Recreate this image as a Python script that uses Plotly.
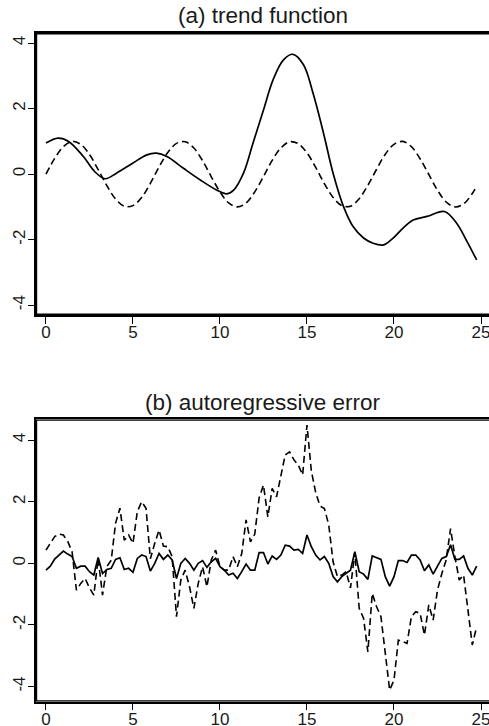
import plotly.graph_objects as go

# ---- panel (a): trend function ----
trend_x = [0, 0.7, 1.3, 2.15, 2.8, 3.4, 4.05, 5.0, 5.8, 6.35, 6.95, 7.9, 8.85, 9.8,
           10.4, 10.8, 11.35, 11.9, 12.5, 13.05, 13.65, 14.2, 14.8, 15.35, 15.95,
           16.5, 17.1, 17.65, 18.25, 18.8, 19.4, 19.95, 20.55, 21.1, 21.9, 22.9,
           23.6, 24.2, 24.75]
trend_y = [0.95, 1.10, 1.00, 0.54, 0.08, -0.14, 0.03, 0.34, 0.59, 0.64, 0.54, 0.18,
           -0.17, -0.48, -0.60, -0.48, 0.03, 0.95, 1.96, 2.88, 3.49, 3.66, 3.34, 2.47,
           1.25, 0.03, -0.99, -1.60, -1.95, -2.11, -2.16, -1.95, -1.63, -1.40, -1.29,
           -1.14, -1.50, -2.06, -2.62]

wave_x = [0, 0.5, 1, 1.5, 2, 2.5, 3, 3.5, 4, 4.5, 5, 5.5, 6, 6.5, 7, 7.5, 8, 8.5, 9,
          9.5, 10, 10.5, 11, 11.5, 12, 12.5, 13, 13.5, 14, 14.5, 15, 15.5, 16, 16.5,
          17, 17.5, 18, 18.5, 19, 19.5, 20, 20.5, 21, 21.5, 22, 22.5, 23, 23.5, 24,
          24.5, 24.75]
wave_y = [0.00, 0.48, 0.84, 1.00, 0.91, 0.60, 0.14, -0.35, -0.76, -0.98, -0.96, -0.71,
          -0.28, 0.22, 0.66, 0.94, 0.99, 0.80, 0.41, -0.08, -0.54, -0.88, -1.00, -0.88,
          -0.54, -0.07, 0.42, 0.80, 0.99, 0.93, 0.65, 0.21, -0.29, -0.71, -0.96, -0.98,
          -0.75, -0.34, 0.15, 0.61, 0.91, 1.00, 0.84, 0.47, -0.01, -0.49, -0.85, -1.00,
          -0.91, -0.59, -0.37]

# ---- panel (b): autoregressive error ----
ar_x = [i * 0.25 for i in range(100)]
ar_small = [-0.22, -0.09, 0.14, 0.27, 0.40, 0.30, 0.22, -0.16, -0.09, -0.09,
            -0.27, -0.38, 0.19, -0.33, -0.20, -0.16, 0.13, 0.18, -0.20, -0.16,
            -0.29, 0.16, 0.27, 0.22, -0.25, 0.00, 0.32, 0.13, 0.27, 0.11,
            -0.49, 0.00, 0.16, 0.00, -0.22, 0.00, 0.09, -0.13, 0.05, 0.16,
            -0.11, -0.22, -0.38, -0.32, -0.49, -0.27, -0.02, -0.22, -0.22, 0.35,
            0.35, -0.02, 0.24, 0.13, 0.27, 0.59, 0.56, 0.43, 0.45, 0.32,
            0.92, 0.54, 0.27, 0.11, 0.22, 0.00, -0.43, -0.60, -0.43, -0.32,
            -0.22, 0.38, -0.27, -0.35, -0.52, 0.24, 0.18, 0.13, -0.43, -0.74,
            -0.43, 0.09, 0.09, 0.03, 0.27, 0.27, 0.11, -0.24, -0.05, -0.35,
            -0.09, 0.16, 0.22, 0.60, 0.13, 0.13, 0.24, -0.16, -0.38, -0.09]
ar_large = [0.43, 0.65, 0.87, 0.95, 0.92, 0.71, 0.38, -0.87, -0.65, -0.49,
            -0.80, -1.03, 0.16, -1.03, -0.10, 0.10, 1.30, 1.79, 0.75, 0.92,
            0.65, 1.68, 2.00, 1.79, 0.15, 0.65, 1.08, 0.56, 0.54, 0.22,
            -1.73, -0.54, -0.22, -0.76, -1.46, -0.65, -0.11, -0.76, 0.11, 0.43,
            -0.11, -0.22, -0.22, 0.22, -0.11, 0.32, 1.41, 0.70, 0.95, 2.13,
            2.54, 1.51, 2.43, 2.16, 2.81, 3.52, 3.62, 3.36, 3.19, 2.87,
            4.49, 3.00, 2.30, 1.86, 1.78, 1.25, 0.05, -0.43, -0.38, -0.27,
            -0.80, 0.35, -1.46, -1.78, -2.87, -0.98, -1.41, -1.73, -2.92, -4.11,
            -3.79, -2.49, -2.54, -2.60, -1.73, -1.57, -1.62, -2.33, -1.35, -1.84,
            -0.87, -0.33, 0.11, 1.13, 0.22, -0.54, -0.38, -1.52, -2.65, -2.06]

tick_vals_x = [0, 5, 10, 15, 20, 25]
tick_vals_y = [-4, -2, 0, 2, 4]
titles = ["(a) trend function", "(b) autoregressive error"]

W, H = 489, 726
FONT = "Liberation Sans, Arial, Helvetica, sans-serif"
INK = "black"
TXT = "#1a1a1a"

left_px = 35.7
left = left_px / W
xr = [-0.59, 25.46]
yr_a = [-4.30, 4.31]
yr_b = [-4.49, 4.675]
top_a, bot_a = 33.0, 315.0
top_b, bot_b = 419.3, 701.7
dom_a = [1 - bot_a / H, 1 - top_a / H]
dom_b = [1 - bot_b / H, 1 - top_b / H]
LW = 1.5  # frame thickness in px

fig = go.Figure()
solid = dict(color="black", width=1.7)
dashed = dict(color="black", width=1.6, dash="7px,4px")

# frames (left, bottom and top sides; right side lies beyond the picture edge),
# drawn just inside each panel's own axis ranges
px_per_x = (W - left_px) / (xr[1] - xr[0])
for (ax_x, ax_y, yr, t, b) in (("x", "y", yr_a, top_a, bot_a),
                               ("x2", "y2", yr_b, top_b, bot_b)):
    px_per_y = (b - t) / (yr[1] - yr[0])
    dx = (LW / 2) / px_per_x
    dy = (LW / 2) / px_per_y
    fx = [xr[1] + 1, xr[0] + dx, xr[0] + dx, xr[1] + 1]
    fy = [yr[1] - dy, yr[1] - dy, yr[0] + dy, yr[0] + dy]
    fig.add_trace(go.Scatter(x=fx, y=fy, mode="lines",
                             line=dict(color=INK, width=LW, shape="linear"),
                             xaxis=ax_x, yaxis=ax_y, showlegend=False,
                             hoverinfo="skip"))

fig.add_trace(go.Scatter(x=trend_x, y=trend_y, mode="lines", line=dict(**solid, shape="spline"),
                         xaxis="x", yaxis="y", showlegend=False))
fig.add_trace(go.Scatter(x=wave_x, y=wave_y, mode="lines", line=dict(**dashed, shape="spline"),
                         xaxis="x", yaxis="y", showlegend=False))
fig.add_trace(go.Scatter(x=ar_x, y=ar_small, mode="lines", line=solid,
                         xaxis="x2", yaxis="y2", showlegend=False))
fig.add_trace(go.Scatter(x=ar_x, y=ar_large, mode="lines", line=dashed,
                         xaxis="x2", yaxis="y2", showlegend=False))

xcommon = dict(range=xr, domain=[left, 1], showgrid=False, zeroline=False,
               showline=True, mirror=True, linecolor=INK, linewidth=LW,
               ticks="outside", ticklen=7, tickwidth=1.2, tickcolor=INK,
               tickvals=tick_vals_x, ticktext=[str(v) for v in tick_vals_x],
               tickfont=dict(family=FONT, size=17, color=TXT), automargin=False,
               ticklabeloverflow="allow", ticklabelstandoff=-6)
ycommon = dict(showgrid=False, zeroline=False, showline=True, linecolor=INK,
               linewidth=LW, ticks="outside", ticklen=6,
               tickwidth=1.2, tickcolor=INK, tickvals=tick_vals_y,
               ticktext=[str(v) for v in tick_vals_y], tickangle=-90,
               tickfont=dict(family=FONT, size=17, color=TXT), automargin=False,
               ticklabeloverflow="allow", ticklabelstandoff=-4)

fig.update_layout(
    width=W, height=H,
    margin=dict(l=0, r=0, t=0, b=0),
    paper_bgcolor="white", plot_bgcolor="white",
    xaxis=dict(**xcommon, anchor="y"),
    yaxis=dict(**ycommon, domain=dom_a, range=yr_a, anchor="x"),
    xaxis2=dict(**xcommon, anchor="y2"),
    yaxis2=dict(**ycommon, domain=dom_b, range=yr_b, anchor="x2"),
    annotations=[
        dict(text=titles[0], x=263 / W, y=1 - 15.5 / H, xref="paper", yref="paper",
             showarrow=False, xanchor="center", yanchor="middle",
             font=dict(family=FONT, size=22.5, color=TXT)),
        dict(text=titles[1], x=263 / W, y=1 - 402.5 / H, xref="paper", yref="paper",
             showarrow=False, xanchor="center", yanchor="middle",
             font=dict(family=FONT, size=22.5, color=TXT)),
    ],
)

fig.write_html("out.html")
